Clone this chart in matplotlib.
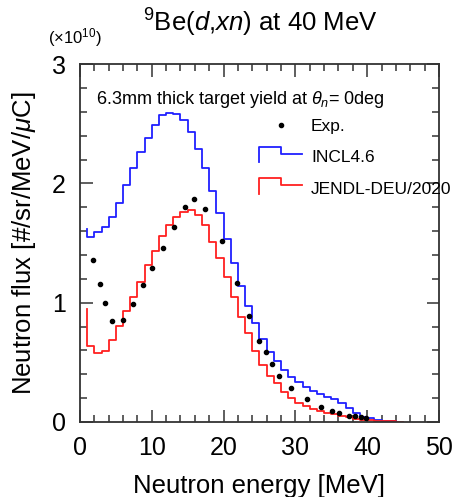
import numpy as np
import matplotlib
matplotlib.use("Agg")
import matplotlib.pyplot as plt
from matplotlib.lines import Line2D
from matplotlib.legend_handler import HandlerBase
from matplotlib.ticker import MultipleLocator

plt.rcParams["font.family"] = ["Liberation Sans", "DejaVu Sans"]
plt.rcParams["mathtext.fontset"] = "custom"
plt.rcParams["mathtext.rm"] = "Liberation Sans"
plt.rcParams["mathtext.it"] = "Liberation Sans:italic"

# 1 MeV bins, low edge at 1 MeV
bin_lo = 1.0
incl = [1.553, 1.595, 1.637, 1.721, 1.833, 1.987, 2.127, 2.266, 2.383, 2.49,
        2.573, 2.587, 2.582, 2.531, 2.428, 2.286, 2.127, 1.935, 1.749, 1.531,
        1.33, 1.14, 0.975, 0.832, 0.696, 0.589, 0.511, 0.436, 0.38, 0.338,
        0.291, 0.263, 0.235, 0.212, 0.19, 0.157, 0.115, 0.078, 0.045, 0.03,
        0.018, 0.01, 0.005]
incl_start = 1.62
jendl = [0.637, 0.581, 0.598, 0.687, 0.805, 0.93, 1.05, 1.171, 1.316, 1.436,
         1.563, 1.651, 1.721, 1.763, 1.777, 1.735, 1.648, 1.511, 1.372, 1.218,
         1.05, 0.876, 0.743, 0.598, 0.478, 0.386, 0.324, 0.254, 0.199, 0.162,
         0.134, 0.109, 0.092, 0.078, 0.064, 0.05, 0.039, 0.028, 0.02, 0.015,
         0.01, 0.008, 0.005, 0.003]
jendl_start = 0.95

exp_e = [1.86, 2.79, 3.48, 4.5, 5.94, 7.43, 8.82, 9.98, 11.5, 13.09, 14.62,
         15.92, 17.45, 19.82, 21.9, 23.58, 24.97, 25.86, 26.7, 27.76,
         29.34, 31.57, 33.57, 35.05, 36.1, 37.47, 38.3, 39.2, 39.9]
exp_v = [1.358, 1.154, 1.0, 0.849, 0.855, 0.989, 1.148, 1.294, 1.456, 1.637,
         1.8, 1.867, 1.788, 1.517, 1.168, 0.891, 0.681, 0.584, 0.484,
         0.386, 0.288, 0.19, 0.128, 0.095, 0.078, 0.053, 0.048, 0.039, 0.031]


def step_xy(vals, start):
    edges = bin_lo + np.arange(len(vals) + 1)
    x = np.concatenate([[edges[0]], np.repeat(edges, 2)[1:-1], [edges[-1]]])
    y = np.concatenate([[start], np.repeat(vals, 2), [0.0]])
    return x, y


class StepHandler(HandlerBase):
    def create_artists(self, legend, orig, xd, yd, w, h, fontsize, trans):
        x = [-xd, -xd, -xd + w / 2, -xd + w / 2, -xd + w]
        y = [-yd, -yd + 1.25 * h, -yd + 1.25 * h, -yd + 0.7 * h, -yd + 0.7 * h]
        ln = Line2D(x, y, color=orig.get_color(), lw=orig.get_linewidth(), transform=trans)
        return [ln]


fig = plt.figure(figsize=(4.65, 4.97), dpi=100)
ax = fig.add_axes([0.172, 0.151, 0.772, 0.72])

x, y = step_xy(incl, incl_start)
l_incl, = ax.plot(x, y, color="#2020ff", lw=1.3)
x, y = step_xy(jendl, jendl_start)
l_jendl, = ax.plot(x, y, color="#ff2020", lw=1.3)
l_exp, = ax.plot(exp_e, exp_v, "o", color="black", ms=3, ls="none")

ax.set_xlim(0, 50)
ax.set_ylim(0, 3)
ax.xaxis.set_major_locator(MultipleLocator(10))
ax.xaxis.set_minor_locator(MultipleLocator(2))
ax.yaxis.set_major_locator(MultipleLocator(1))
ax.yaxis.set_minor_locator(MultipleLocator(0.2))
ax.tick_params(which="both", direction="in", top=True, right=True, width=1.1,
               labelsize=18, color="#333333")
ax.tick_params(which="major", length=9)
ax.tick_params(which="minor", length=5)
ax.tick_params(axis="x", pad=10)
ax.tick_params(axis="y", pad=10)
for s in ax.spines.values():
    s.set_linewidth(1.3)
    s.set_color("#333333")

ax.set_xlabel("Neutron energy [MeV]", fontsize=18.5, labelpad=10)
ax.set_ylabel(r"Neutron flux [#/sr/MeV/$\mu$C]", fontsize=18.5, labelpad=10)
fig.text(0.56, 0.953, r"$^{9}$Be($d$,$xn$) at 40 MeV", fontsize=18.5, ha="center", va="center")
fig.text(0.103, 0.925, r"($\times$10$^{10}$)", fontsize=12, ha="left", va="center")
ax.text(0.045, 0.9, r"6.3mm thick target yield at $\theta_n$= 0deg", fontsize=13,
        transform=ax.transAxes, ha="left", va="center")

ax.legend([l_exp, l_incl, l_jendl], ["Exp.", "INCL4.6", "JENDL-DEU/2020"],
          handler_map={l_incl: StepHandler(), l_jendl: StepHandler()},
          loc="upper left", bbox_to_anchor=(0.455, 0.89), frameon=False,
          fontsize=12.5, handlelength=2.5, handletextpad=0.5, labelspacing=0.92)

fig.savefig("out.png", dpi=100)
